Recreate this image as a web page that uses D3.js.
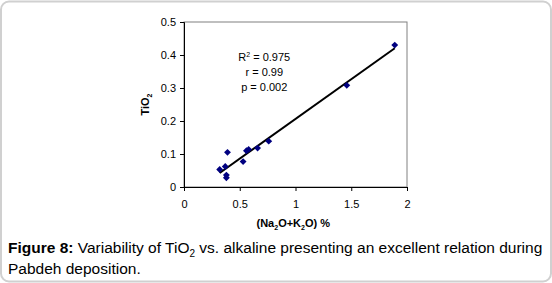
<!DOCTYPE html>
<html>
<head>
<meta charset="utf-8">
<script src="https://cdn.jsdelivr.net/npm/d3@7"></script>
<style>
  body { margin: 0; background: #fff; }
  svg { display: block; font-family: "Liberation Sans", Arial, sans-serif; }
</style>
</head>
<body>
<svg id="chart" width="552" height="283"></svg>
<script>
// alkaline (Na2O+K2O %) vs TiO2, Pabdeh samples
const alkaline = [0.32, 0.37, 0.38, 0.38, 0.39, 0.53, 0.56, 0.58, 0.66, 0.76, 1.46, 1.89];
const tio2     = [0.053, 0.062, 0.036, 0.028, 0.105, 0.077, 0.11, 0.114, 0.118, 0.139, 0.308, 0.43];
const xTicks = [0, 0.5, 1, 1.5, 2];
const yTicks = [0, 0.1, 0.2, 0.3, 0.4, 0.5];
const statLines = ["R2 = 0.975", "r = 0.99", "p = 0.002"];

const svg = d3.select("#chart");
const width = +svg.attr("width"), height = +svg.attr("height");
const margin = { top: 22, right: 145, bottom: 96, left: 184 };
const innerW = width - margin.left - margin.right,
      innerH = height - margin.top - margin.bottom;

// outer frame
svg.append("rect")
    .attr("x", 1).attr("y", 1.5).attr("width", width - 2).attr("height", height - 3)
    .attr("rx", 8).attr("fill", "none").attr("stroke", "#d0d0d0").attr("stroke-width", 2);

const g = svg.append("g").attr("transform", `translate(${margin.left},${margin.top})`);

const x = d3.scaleLinear().domain([0, 2]).range([0, innerW]);
const y = d3.scaleLinear().domain([0, 0.5]).range([innerH, 0]);

// plot box
g.append("rect").attr("width", innerW).attr("height", innerH)
    .attr("fill", "none").attr("stroke", "#808080").attr("stroke-width", 1);

const xAxis = g.append("g").attr("transform", `translate(0,${innerH})`)
    .call(d3.axisBottom(x).tickValues(xTicks).tickSize(4).tickFormat(d3.format("")));
const yAxis = g.append("g")
    .call(d3.axisLeft(y).tickValues(yTicks).tickSize(4).tickFormat(d3.format("")));
[xAxis, yAxis].forEach(a => {
  a.select(".domain").attr("stroke", "#000");
  a.selectAll(".tick line").attr("stroke", "#000");
  a.selectAll("text").attr("font-size", 11).attr("fill", "#000")
    .attr("font-family", "\"Liberation Sans\", Arial, sans-serif");
});
xAxis.selectAll("text").attr("dy", "1.25em");
yAxis.selectAll("text").attr("x", -8);

// least squares fit
const n = alkaline.length;
const mx = d3.mean(alkaline), my = d3.mean(tio2);
const slope = d3.sum(alkaline, (v, i) => (v - mx) * (tio2[i] - my)) / d3.sum(alkaline, v => (v - mx) ** 2);
const icpt = my - slope * mx;
const [x0, x1] = d3.extent(alkaline);
g.append("line")
    .attr("x1", x(x0)).attr("y1", y(slope * x0 + icpt))
    .attr("x2", x(x1)).attr("y2", y(slope * x1 + icpt))
    .attr("stroke", "#000").attr("stroke-width", 2);

const diamond = d3.symbol().type(d3.symbolDiamond2).size(30);
g.selectAll(".pt").data(alkaline).enter().append("path")
    .attr("class", "pt")
    .attr("d", diamond)
    .attr("transform", (d, i) => `translate(${x(d)},${y(tio2[i])})`)
    .attr("fill", "#000080");

// stats annotation
const st = g.append("text").attr("x", x(0.72)).attr("y", 39)
    .attr("text-anchor", "middle").attr("font-size", 11).attr("fill", "#000");
statLines.forEach((s, i) => {
  const ts = st.append("tspan").attr("x", x(0.72)).attr("dy", i === 0 ? 0 : 15);
  if (i === 0) {
    ts.text("R");
    st.append("tspan").attr("font-size", 7).attr("dy", -4).text("2");
    st.append("tspan").attr("dy", 4).text(" = 0.975");
  } else ts.text(s);
});

// axis titles
const xt = svg.append("text").attr("x", margin.left + x(0.98)).attr("y", 227)
    .attr("text-anchor", "middle").attr("font-size", 11).attr("font-weight", "bold");
xt.append("tspan").text("(Na");
xt.append("tspan").attr("font-size", 7).attr("dy", 3).text("2");
xt.append("tspan").attr("dy", -3).text("O+K");
xt.append("tspan").attr("font-size", 7).attr("dy", 3).text("2");
xt.append("tspan").attr("dy", -3).text("O) %");

const yt = svg.append("text").attr("transform", `translate(149,${margin.top + y(0.25)}) rotate(-90)`)
    .attr("text-anchor", "middle").attr("font-size", 11).attr("font-weight", "bold");
yt.append("tspan").text("TiO");
yt.append("tspan").attr("font-size", 7).attr("dy", 3).text("2");

// caption
const cap = svg.append("text").attr("x", 8).attr("y", 253).attr("font-size", 15.5).attr("fill", "#000");
cap.append("tspan").attr("font-weight", "bold").text("Figure 8:");
cap.append("tspan").text(" Variability of TiO");
cap.append("tspan").attr("font-size", 10).attr("dy", 4).text("2");
cap.append("tspan").attr("dy", -4).text(" vs. alkaline presenting an excellent relation during");
svg.append("text").attr("x", 8).attr("y", 274).attr("font-size", 15.5).attr("fill", "#000")
    .text("Pabdeh deposition.");
</script>
</body>
</html>
